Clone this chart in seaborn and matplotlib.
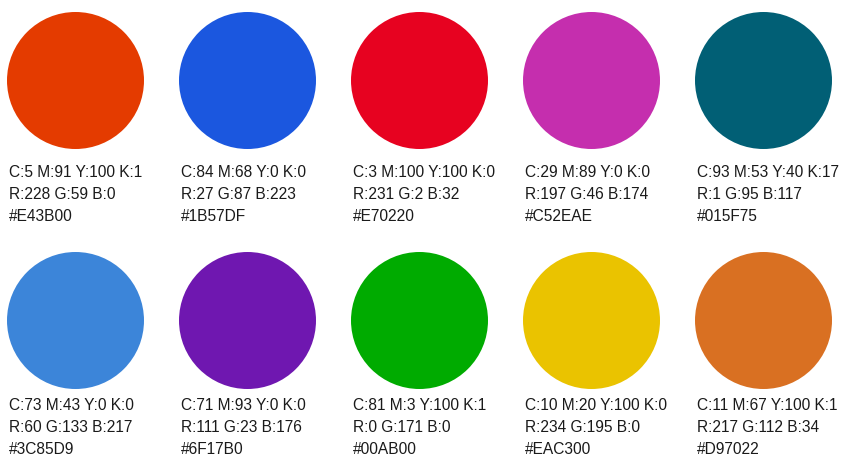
import pandas as pd
import seaborn as sns
import matplotlib.pyplot as plt

# swatch values, read left to right, top row then bottom row
codigos_hex = ['#E43B00', '#1B57DF', '#E70220', '#C52EAE', '#015F75',
               '#3C85D9', '#6F17B0', '#00AB00', '#EAC300', '#D97022']
textos_cmyk = ['C:5 M:91 Y:100 K:1', 'C:84 M:68 Y:0 K:0', 'C:3 M:100 Y:100 K:0',
               'C:29 M:89 Y:0 K:0', 'C:93 M:53 Y:40 K:17',
               'C:73 M:43 Y:0 K:0', 'C:71 M:93 Y:0 K:0', 'C:81 M:3 Y:100 K:1',
               'C:10 M:20 Y:100 K:0', 'C:11 M:67 Y:100 K:1']
textos_rgb = ['R:228 G:59 B:0', 'R:27 G:87 B:223', 'R:231 G:2 B:32',
              'R:197 G:46 B:174', 'R:1 G:95 B:117',
              'R:60 G:133 B:217', 'R:111 G:23 B:176', 'R:0 G:171 B:0',
              'R:234 G:195 B:0', 'R:217 G:112 B:34']

n_col = 5
df = pd.DataFrame({'hex': codigos_hex, 'cmyk': textos_cmyk, 'rgb': textos_rgb})
df['col'] = df.index % n_col
df['fila'] = df.index // n_col

# layout in pixel units
paso_x = 172
x0 = 75.5
centros_y = [80.5, 320.5]
radio = 68.5
base_texto = [[177, 199, 221], [410, 432, 454]]

df['x'] = x0 + paso_x * df['col']
df['y'] = [centros_y[f] for f in df['fila']]

sns.set_theme(style="white")
plt.rcParams['font.family'] = ['Liberation Sans', 'DejaVu Sans']

fig = plt.figure(figsize=(8.44, 4.59), dpi=100)
ax = fig.add_axes([0, 0, 1, 1])

diam_pt = 2 * radio * 72 / 100
sns.scatterplot(data=df, x='x', y='y', hue='hex',
                palette={h: h for h in codigos_hex},
                s=diam_pt ** 2, linewidth=0, legend=False, ax=ax)

for _, r in df.iterrows():
    tx = r['x'] - radio + 2
    lineas = [r['cmyk'], r['rgb'], r['hex']]
    for yb, t in zip(base_texto[r['fila']], lineas):
        ax.text(tx, yb, t, fontsize=11.2, color='#1a1a1a',
                ha='left', va='baseline')

ax.set_xlim(0, 844)
ax.set_ylim(459, 0)
ax.axis('off')

fig.savefig('out.png', dpi=100)
